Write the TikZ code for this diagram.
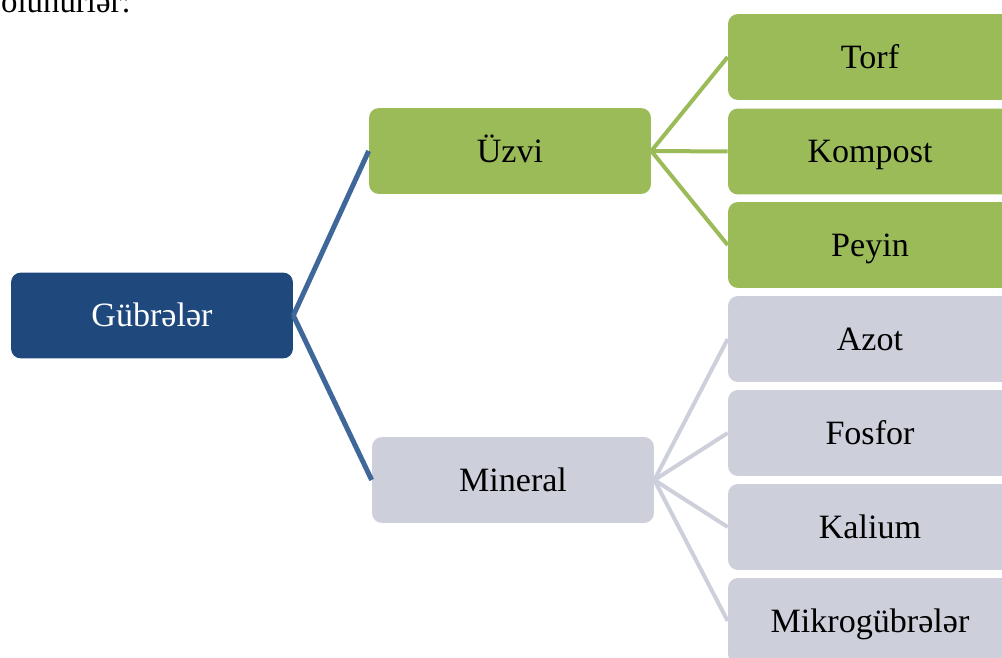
\documentclass[tikz,border=0pt]{standalone}
\usepackage{fontspec}
\setmainfont{Liberation Serif}
\usepackage{xcolor}
\usepackage{tikz}
\usetikzlibrary{positioning,calc}
\definecolor{darkblue}{HTML}{1F497D}
\definecolor{linkblue}{HTML}{3F679A}
\definecolor{leafgreen}{HTML}{9BBB59}
\definecolor{leafgray}{HTML}{CDD0DA}
\tikzstyle{box}= [rectangle, rounded corners=0.2cm, inner sep=0pt, minimum width=5.64cm, minimum height=1.72cm, text height=12.8pt, text depth=0pt, font=\fontsize{19.4}{23}\selectfont]
\tikzstyle{leaf}= [box, minimum width=5.68cm]
\tikzstyle{bline}= [linkblue, line width=0.1cm]
\tikzstyle{gline}= [leafgreen, line width=0.08cm]
\tikzstyle{sline}= [leafgray, line width=0.08cm]

\begin{document}
\begin{tikzpicture}[x=0.02cm, y=-0.02cm]
				\clip (0, 0) rectangle (1002, 658);
				\node[anchor=base east, inner sep=0pt, font=\fontsize{18.7}{22}\selectfont] (intro) at (131, 12.5) {bölünürlər:};

				\node[box, fill=darkblue, text=white] (gub) at (152, 315.5) {Gübrələr};
				\node[box, fill=leafgreen] (uzvi) at (510, 151) {Üzvi};
				\node[box, fill=leafgray] (mineral) at (513, 480) {Mineral};

				\node[leaf, fill=leafgreen] (torf) at (870, 57) {Torf};
				\node[leaf, fill=leafgreen] (kompost) at (870, 151.5) {Kompost};
				\node[leaf, fill=leafgreen] (peyin) at (870, 245) {Peyin};
				\node[leaf, fill=leafgray] (azot) at (870, 339) {Azot};
				\node[leaf, fill=leafgray] (fosfor) at (870, 433) {Fosfor};
				\node[leaf, fill=leafgray] (kalium) at (870, 527) {Kalium};
				\node[leaf, fill=leafgray] (mikro) at (870, 621) {Mikrogübrələr};

				\draw[bline](gub.east) -- (uzvi.west);
				\draw[bline](gub.east) -- (mineral.west);

				\draw[gline](uzvi.east) -- (torf.west);
				\draw[gline](uzvi.east) -- (kompost.west);
				\draw[gline](uzvi.east) -- (peyin.west);

				\draw[sline](mineral.east) -- (azot.west);
				\draw[sline](mineral.east) -- (fosfor.west);
				\draw[sline](mineral.east) -- (kalium.west);
				\draw[sline](mineral.east) -- (mikro.west);
			\end{tikzpicture}
\end{document}
